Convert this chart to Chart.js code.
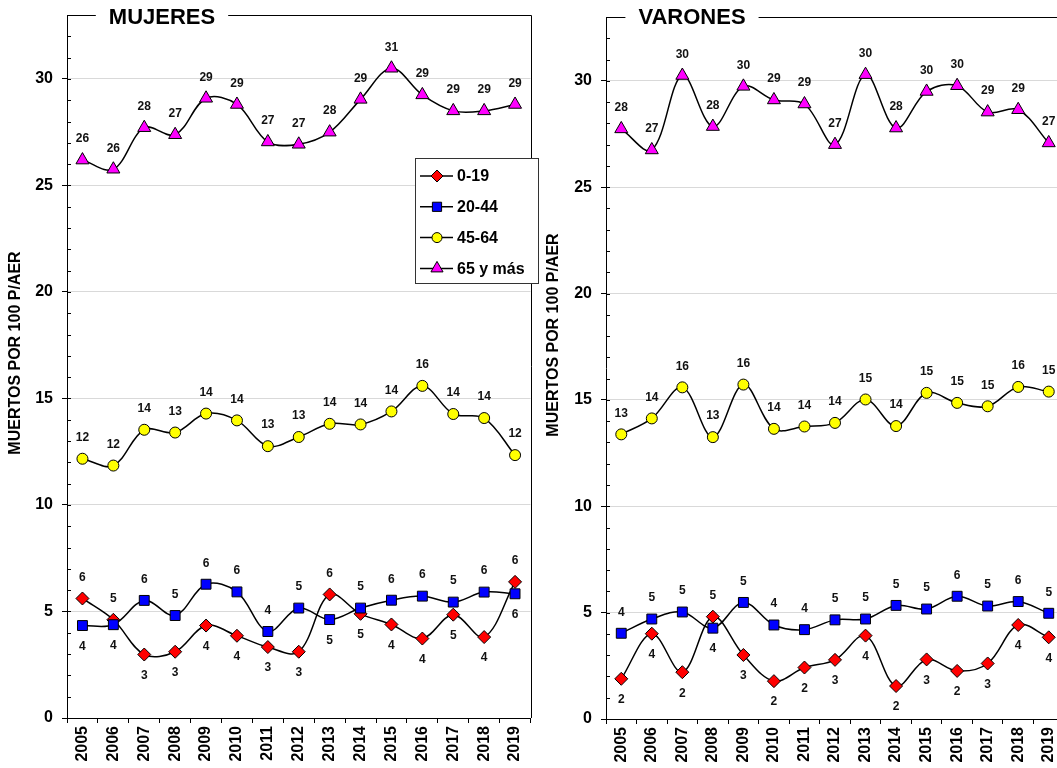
<!DOCTYPE html>
<html>
<head>
<meta charset="utf-8">
<script src="https://cdn.jsdelivr.net/npm/chart.js@4.4.1/dist/chart.umd.min.js"></script>
<style>
    html, body { margin: 0; padding: 0; background: #fff; overflow: hidden; }
    #wrap { position: relative; width: 1057px; height: 768px; overflow: hidden; }
    .panel { position: absolute; top: 0; }
</style>
</head>
<body>
<div id="wrap">
    <canvas id="mujeres" class="panel" width="539" height="768" style="left:0px"></canvas>
    <canvas id="varones" class="panel" width="540" height="768" style="left:539px"></canvas>
</div>
<script>
// ========================================
// DATOS
// ========================================
const years = ['2005', '2006', '2007', '2008', '2009', '2010', '2011', '2012',
               '2013', '2014', '2015', '2016', '2017', '2018', '2019'];
const seriesNames = ['0-19', '20-44', '45-64', '65 y más'];

// Mujeres
const muj0019 = [5.61, 4.61, 2.98, 3.11, 4.34, 3.86, 3.33, 3.11, 5.80, 4.89, 4.39, 3.73, 4.85, 3.80, 6.39];
const muj2044 = [4.34, 4.38, 5.52, 4.81, 6.28, 5.92, 4.06, 5.16, 4.62, 5.16, 5.53, 5.72, 5.44, 5.91, 5.83];
const muj4564 = [12.17, 11.85, 13.53, 13.40, 14.29, 13.97, 12.76, 13.19, 13.81, 13.78, 14.39, 15.59, 14.27, 14.08, 12.34];
const muj65 = [26.19, 25.76, 27.71, 27.38, 29.09, 28.80, 27.04, 26.93, 27.50, 29.04, 30.50, 29.25, 28.50, 28.50, 28.80];

// Varones
const var0019 = [1.89, 4.01, 2.20, 4.81, 3.01, 1.78, 2.42, 2.78, 3.92, 1.55, 2.80, 2.26, 2.61, 4.42, 3.84];
const var2044 = [4.03, 4.70, 5.03, 4.27, 5.48, 4.42, 4.20, 4.66, 4.70, 5.34, 5.17, 5.77, 5.31, 5.52, 4.97];
const var4564 = [13.38, 14.13, 15.59, 13.25, 15.72, 13.64, 13.75, 13.92, 15.02, 13.77, 15.33, 14.86, 14.70, 15.61, 15.39];
const var65 = [27.74, 26.75, 30.25, 27.85, 29.74, 29.10, 28.91, 27.00, 30.29, 27.78, 29.50, 29.77, 28.53, 28.64, 27.08];

// Eje Y
const yMin = 0;
const yMax = 33;
const yStep = 5;
const yTitle = 'MUERTOS POR 100 P/AER';

// Estilo de series
const markerColors = ['#ff0000', '#0000ff', '#ffff00', '#ff00ff'];
const markerStyles = ['rectRot', 'rect', 'circle', 'triangle'];
const markerSizes = [6.5, 7, 5.5, 7.5];

const FONT = "'Liberation Sans', Arial, sans-serif";

// ========================================
// PLUGINS
// ========================================

// Marco, título interior, ticks menores y título del eje Y
const makeFrame = (cfg) => ({
    id: 'frame',
    afterDraw(chart) {
        const { ctx, chartArea: a } = chart;
        const y = chart.scales.y;
        ctx.save();
        ctx.strokeStyle = '#000';
        ctx.lineWidth = 1;

        // ticks menores (hacia dentro)
        ctx.beginPath();
        for (let v = yMin + 1; v < yMax; v++) {
            const py = Math.round(y.getPixelForValue(v)) + 0.5;
            ctx.moveTo(a.left, py);
            ctx.lineTo(a.left + 4, py);
        }
        ctx.stroke();

        // borde superior con hueco para el título y borde derecho
        ctx.font = 'bold 22px ' + FONT;
        const w = ctx.measureText(cfg.title).width;
        const top = Math.round(a.top) + 0.5;
        const right = Math.round(a.right) + 0.5;
        ctx.beginPath();
        ctx.moveTo(a.left, top);
        ctx.lineTo(cfg.titleX - w / 2 - 13, top);
        ctx.moveTo(cfg.titleX + w / 2 + 13, top);
        ctx.lineTo(right, top);
        ctx.lineTo(right, a.bottom);
        ctx.stroke();

        ctx.fillStyle = '#000';
        ctx.textAlign = 'center';
        ctx.textBaseline = 'middle';
        ctx.fillText(cfg.title, cfg.titleX, cfg.titleY);

        // título del eje Y
        ctx.translate(cfg.axisTitleX, cfg.axisTitleY);
        ctx.rotate(-Math.PI / 2);
        ctx.font = 'bold ' + cfg.axisTitleSize + 'px ' + FONT;
        ctx.fillText(yTitle, 0, 0);
        ctx.restore();
    }
});

// Etiquetas de valor
const valueLabels = {
    id: 'valueLabels',
    afterDatasetsDraw(chart) {
        const { ctx } = chart;
        const ds = chart.data.datasets;
        ctx.save();
        ctx.font = 'bold 12px ' + FONT;
        ctx.fillStyle = '#111';
        ctx.textAlign = 'center';
        ctx.textBaseline = 'middle';
        ds.forEach((d, i) => {
            const meta = chart.getDatasetMeta(i);
            meta.data.forEach((pt, j) => {
                const v = d.data[j];
                let up = true;
                if (i < 2) up = v >= ds[1 - i].data[j];
                ctx.fillText(String(Math.round(v)), pt.x, pt.y + (up ? -21 : 21));
            });
        });
        ctx.restore();
    }
};

// Leyenda en recuadro
const boxLegend = {
    id: 'boxLegend',
    afterDraw(chart) {
        const { ctx } = chart;
        const bx = 415, by = 158, bw = 123, bh = 125;
        ctx.save();
        ctx.fillStyle = '#fff';
        ctx.fillRect(bx, by, bw, bh);
        ctx.strokeStyle = '#333';
        ctx.lineWidth = 1;
        ctx.strokeRect(bx + 0.5, by + 0.5, bw, bh);

        seriesNames.forEach((name, i) => {
            const cy = 176 + i * 30.8;
            ctx.strokeStyle = '#000';
            ctx.lineWidth = 1.5;
            ctx.beginPath();
            ctx.moveTo(420, cy);
            ctx.lineTo(453, cy);
            ctx.stroke();
            ctx.fillStyle = markerColors[i];
            ctx.lineWidth = 1;
            Chart.helpers.drawPoint(ctx, {
                pointStyle: markerStyles[i],
                radius: markerSizes[i] - 0.5,
                borderWidth: 1,
                rotation: 0
            }, 437, cy);
            ctx.fillStyle = '#000';
            ctx.font = 'bold 16px ' + FONT;
            ctx.textAlign = 'left';
            ctx.textBaseline = 'middle';
            ctx.fillText(name, 457, cy + 1);
        });
        ctx.restore();
    }
};

// ========================================
// GRÁFICOS
// ========================================
const buildDatasets = (values) => values.map((data, i) => ({
    label: seriesNames[i],
    data,
    borderColor: '#000',
    borderWidth: 1.5,
    tension: 0.35,
    pointStyle: markerStyles[i],
    pointRadius: markerSizes[i],
    pointBackgroundColor: markerColors[i],
    pointBorderColor: '#000',
    pointBorderWidth: 1,
    order: 3 - i
}));

const buildOptions = (cfg) => ({
    responsive: false,
    animation: false,
    events: [],
    layout: { padding: { top: cfg.top, right: cfg.right, left: 0, bottom: 0 } },
    plugins: {
        legend: { display: false },
        tooltip: { enabled: false }
    },
    scales: {
        x: {
            offset: true,
            grid: { offset: true, drawOnChartArea: false, drawTicks: true, tickLength: 5, tickColor: '#000' },
            border: { color: '#000', width: 1 },
            ticks: {
                minRotation: 90,
                maxRotation: 90,
                autoSkip: false,
                padding: 3,
                color: '#000',
                font: { family: FONT, size: 16, weight: 'bold' }
            },
            afterFit: (s) => { s.height = cfg.xHeight; s.paddingLeft = 0; s.paddingRight = 0; }
        },
        y: {
            min: yMin,
            max: yMax,
            ticks: {
                stepSize: yStep,
                includeBounds: false,
                padding: 9,
                color: '#000',
                font: { family: FONT, size: 16, weight: 'bold' }
            },
            grid: { color: '#d9d9d9', tickColor: '#000', tickLength: 5 },
            border: { color: '#000', width: 1 },
            afterFit: (s) => { s.width = 67; s.paddingTop = 0; s.paddingBottom = 0; }
        }
    }
});

new Chart(document.getElementById('mujeres'), {
    type: 'line',
    data: { labels: years, datasets: buildDatasets([muj0019, muj2044, muj4564, muj65]) },
    options: buildOptions({ top: 15, right: 8, xHeight: 50 }),
    plugins: [
        valueLabels,
        makeFrame({ title: 'MUJERES', titleX: 162, titleY: 18, axisTitleX: 16, axisTitleY: 353, axisTitleSize: 16 }),
        boxLegend
    ]
});

new Chart(document.getElementById('varones'), {
    type: 'line',
    data: { labels: years, datasets: buildDatasets([var0019, var2044, var4564, var65]) },
    options: buildOptions({ top: 17, right: 15, xHeight: 49 }),
    plugins: [
        valueLabels,
        makeFrame({ title: 'VARONES', titleX: 153, titleY: 18, axisTitleX: 15, axisTitleY: 335, axisTitleSize: 16 })
    ]
});
</script>
</body>
</html>
